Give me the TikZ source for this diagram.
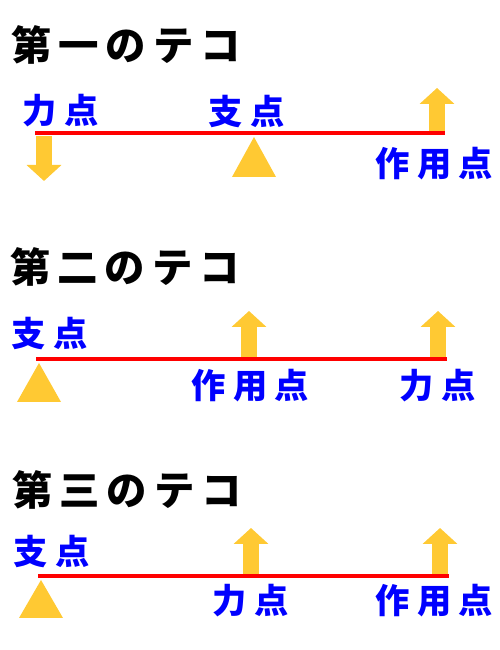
\documentclass[tikz,border=0pt]{standalone}
\usepackage{fontspec}
\newfontfamily\jptitle{Noto Sans CJK JP}[LetterSpace=17]
\newfontfamily\jplabel{Noto Sans CJK JP}[LetterSpace=22]
\usepackage{tikz}
\usetikzlibrary{arrows.meta}
\usepackage{xcolor}
\definecolor{leverred}{RGB}{255, 0, 0}
\definecolor{forceyellow}{RGB}{255, 201, 51}
\definecolor{labelblue}{RGB}{0, 0, 255}

\begin{document}
\begin{tikzpicture}[
  ttl/.style={anchor=west, inner sep=0pt, font=\jptitle\bfseries\fontsize{23}{23}\selectfont},
  lbl/.style={anchor=west, inner sep=0pt, text=labelblue, font=\jplabel\bfseries\fontsize{19.5}{19.5}\selectfont},
  lever/.style={leverred, line width=0.08cm},
  force/.style={forceyellow, line width=0.32cm, -{Triangle[length=0.32cm, width=0.68cm]}},
  fulcrum/.style={fill=forceyellow}]
  \useasboundingbox (0, 0) rectangle (10, 13);

  % first class lever
  \node[ttl] (t1) at (0.22, 12.10) {第一のテコ};
  \coordinate (l1a) at (0.70, 10.34);
  \coordinate (l1b) at (8.90, 10.34);
  \coordinate (f1s) at (0.88, 10.28);
  \coordinate (f1e) at (0.88, 9.38);
  \coordinate (w1s) at (8.74, 10.34);
  \coordinate (w1e) at (8.74, 11.24);
  \draw[force] (f1s) -- (f1e);
  \draw[force] (w1s) -- (w1e);
  \fill[fulcrum] (5.08, 10.26) -- (5.52, 9.46) -- (4.64, 9.46) -- cycle;
  \draw[lever] (l1a) -- (l1b);
  \node[lbl] (r1) at (0.44, 10.78) {力点};
  \node[lbl] (s1) at (4.16, 10.76) {支点};
  \node[lbl] (p1) at (7.50, 9.73) {作用点};

  % second class lever
  \node[ttl] (t2) at (0.20, 7.67) {第二のテコ};
  \coordinate (l2a) at (0.72, 5.82);
  \coordinate (l2b) at (8.94, 5.82);
  \coordinate (w2s) at (4.98, 5.82);
  \coordinate (w2e) at (4.98, 6.78);
  \coordinate (f2s) at (8.76, 5.82);
  \coordinate (f2e) at (8.76, 6.78);
  \draw[force] (w2s) -- (w2e);
  \draw[force] (f2s) -- (f2e);
  \fill[fulcrum] (0.78, 5.74) -- (1.22, 4.96) -- (0.34, 4.96) -- cycle;
  \draw[lever] (l2a) -- (l2b);
  \node[lbl] (s2) at (0.22, 6.32) {支点};
  \node[lbl] (p2) at (3.82, 5.29) {作用点};
  \node[lbl] (r2) at (7.98, 5.29) {力点};

  % third class lever
  \node[ttl] (t3) at (0.24, 3.20) {第三のテコ};
  \coordinate (l3a) at (0.76, 1.48);
  \coordinate (l3b) at (8.98, 1.48);
  \coordinate (f3s) at (5.02, 1.48);
  \coordinate (f3e) at (5.02, 2.44);
  \coordinate (w3s) at (8.80, 1.48);
  \coordinate (w3e) at (8.80, 2.44);
  \draw[force] (f3s) -- (f3e);
  \draw[force] (w3s) -- (w3e);
  \fill[fulcrum] (0.82, 1.40) -- (1.26, 0.64) -- (0.38, 0.64) -- cycle;
  \draw[lever] (l3a) -- (l3b);
  \node[lbl] (s3) at (0.26, 1.97) {支点};
  \node[lbl] (r3) at (4.24, 0.99) {力点};
  \node[lbl] (p3) at (7.50, 0.99) {作用点};
\end{tikzpicture}
\end{document}
